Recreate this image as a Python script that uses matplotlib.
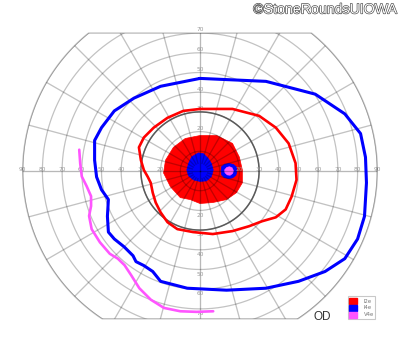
import numpy as np
import matplotlib
matplotlib.use("Agg")
import matplotlib.pyplot as plt
from matplotlib.patches import Polygon, Patch
import matplotlib.patheffects as pe

# ---- data (degrees of visual field; x = temporal/nasal, y = superior/inferior) ----
ring_degrees = [10, 20, 30, 40, 50, 60, 70, 80, 90]
meridian_angles = list(range(0, 360, 15))
h_labels = [20, 30, 40, 50, 60, 70, 80, 90]
v_labels_up = [20, 30, 40, 50, 60, 70]
v_labels_down = [20, 30, 40, 50, 60, 70]
field_top = 70
field_bottom = -75
field_radius = 90

# I4e isopter (blue line)
i4e_x = [0, 33.5, 58.5, 73.5, 81.5, 84, 84.5, 83.5, 80, 73.5, 63.5, 50, 33.5, 13.5, -6.5,
         -20, -24, -28.5, -32.5, -34, -38.5, -43.5, -46.5, -47, -46.5, -50, -52.5, -53.5,
         -53.5, -50, -43.5, -33.5, -20, 0]
i4e_y = [47, 45.5, 39, 29, 19, 7, -6, -23, -34.5, -44.5, -51, -56, -59.5, -60.5, -59.5,
         -56, -51, -48, -46, -43, -38.5, -34.5, -31, -23, -14.5, -9.5, -3, 5.5,
         15.5, 22, 30.5, 37, 43, 47]

# I2e isopter (red line)
i2e_x = [0, 16.5, 30, 38.5, 45, 48.5, 49, 46.5, 43.5, 38.5, 31.5, 25, 16.5, 6.5, -3.5,
         -11.5, -16.5, -20, -22.5, -24, -25, -26.5, -28.5, -30, -31, -28.5, -23.5, -16.5,
         -8.5, 0]
i2e_y = [31.5, 31.5, 28, 22, 14, 4, -4.5, -13, -19.5, -23.5, -25.5, -28, -30.5, -32, -31,
         -29.5, -26, -21, -16, -11, -6, -3, 0.5, 5.5, 12, 17, 22, 27, 30.5, 31.5]

# I2e seeing area (red fill)
i2e_fill_x = [0, 8.5, 16.5, 20, 21.5, 21.5, 18.5, 13.5, 6.5, 0, -5, -10, -15, -18.5, -17.5,
              -13.5, -7.5]
i2e_fill_y = [18, 18, 14, 7, 0.5, -6, -11, -14.5, -16, -16.5, -14.5, -13.5, -8, -1, 5.5,
              12, 16.5]

# I4e central area (blue fill)
i4e_fill_x = [-5.8, -4.2, -0.8, 1.7, 4.2, 5.8, 6.7, 5.8, 3.3, 0, -3.3, -5.8, -6.7]
i4e_fill_y = [3.8, 7.2, 9.2, 8.8, 6.3, 3.8, 0.5, -2.8, -5, -5.3, -4.5, -2.5, 0.5]

# blind spot: I4e (blue) around V4e (magenta)
bs_i4e_x = [11.0, 12.5, 14.8, 17.0, 18.5, 18.8, 18.2, 16.5, 14.5, 12.3, 11.0, 10.7]
bs_i4e_y = [2.2, 3.4, 3.8, 3.3, 2.0, 0.0, -2.2, -3.5, -3.8, -3.3, -2.0, 0.0]
bs_v4e_x = [12.6, 13.6, 15.0, 16.3, 17.0, 16.6, 15.3, 13.8, 12.7, 12.4]
bs_v4e_y = [0.8, 1.9, 2.2, 1.7, 0.2, -1.3, -2.2, -2.0, -1.0, 0.0]

# V4e isopter (magenta, open line)
v4e_x = [-61.3, -60.8, -60, -57.5, -55.3, -55.3, -56.3, -55, -50.8, -45.8, -41.7, -38.3,
         -35, -30.8, -25, -18.3, -10, -1.7, 6.7]
v4e_y = [10.8, 3.8, -2.8, -7.8, -12.8, -17.8, -22.8, -29.5, -36.2, -42, -44.5, -47.8,
         -52.8, -59.5, -65.3, -69.5, -71.2, -71.5, -71.2]

legend_labels = ["I2e", "I4e", "V4e"]
legend_colors = ["#ff0000", "#0000ff", "#ff55ff"]

# ---- figure ----
W, H = 400, 352
cx, cy, scale = 200.0, 171.0, 1.97
fig = plt.figure(figsize=(W / 100, H / 100), dpi=100)
ax = fig.add_axes([0, 0, 1, 1])
ax.set_xlim(-cx / scale, (W - cx) / scale)
ax.set_ylim(-(H - cy) / scale, cy / scale)
ax.set_aspect("equal")
ax.axis("off")

# clip region of the chart (circle of 90 deg cut at top/bottom)
t = np.linspace(0, 2 * np.pi, 721)
cxs = field_radius * np.cos(t)
cys = np.clip(field_radius * np.sin(t), field_bottom, field_top)
clip_poly = Polygon(np.column_stack([cxs, cys]), closed=True, facecolor="none",
                    edgecolor=(0, 0, 0, 0.25), lw=1.0, zorder=3)
ax.add_patch(clip_poly)

# fills
ax.add_patch(Polygon(np.column_stack([i2e_fill_x, i2e_fill_y]), closed=True,
                     facecolor="#ff0000", edgecolor="#ff0000", lw=0.5, zorder=1))
ax.add_patch(Polygon(np.column_stack([i4e_fill_x, i4e_fill_y]), closed=True,
                     facecolor="#0000ff", edgecolor="#0000ff", lw=0.5, zorder=1.1))
ax.add_patch(Polygon(np.column_stack([bs_i4e_x, bs_i4e_y]), closed=True,
                     facecolor="#0000ff", edgecolor="#0000ff", lw=0.5, zorder=1.1))
ax.add_patch(Polygon(np.column_stack([bs_v4e_x, bs_v4e_y]), closed=True,
                     facecolor="#ff55ff", edgecolor="#ff55ff", lw=0.3, zorder=1.2))

# grid drawn as translucent black (darkens whatever lies beneath)
grid_col = (0, 0, 0, 0.24)
for r in ring_degrees:
    ln, = ax.plot(r * np.cos(t), r * np.sin(t), color=grid_col, lw=0.9, zorder=2)
    ln.set_clip_path(clip_poly)
for a in meridian_angles:
    ar = np.deg2rad(a)
    r0 = 0 if a % 90 == 0 else 4
    col = (0, 0, 0, 0.28) if a % 90 == 0 else grid_col
    ln, = ax.plot([r0 * np.cos(ar), 95 * np.cos(ar)], [r0 * np.sin(ar), 95 * np.sin(ar)],
                  color=col, lw=0.95, zorder=2)
    ln.set_clip_path(clip_poly)
# dark 30 deg circle
ax.plot(30 * np.cos(t), 30 * np.sin(t), color="#5a5a5a", lw=1.1, zorder=2.5)

# axis labels
lab_kw = dict(fontsize=4.2, color="#999999", ha="center", va="center", zorder=2.6)
for v in h_labels:
    ax.text(-v, 0.6, str(v), **lab_kw)
    ax.text(v, 0.6, str(v), **lab_kw)
for v in v_labels_up:
    ax.text(0, v + 1.6, str(v), **lab_kw)
for v in v_labels_down:
    ax.text(0, -v - 2.4, str(v), **lab_kw)

# isopter lines
ax.plot(i4e_x, i4e_y, color="#0000ff", lw=2.2, zorder=4, solid_joinstyle="round",
        solid_capstyle="round")
ax.plot(i2e_x, i2e_y, color="#ff0000", lw=1.9, zorder=4, solid_joinstyle="round",
        solid_capstyle="round")
ax.plot(v4e_x, v4e_y, color="#ff55ff", lw=1.9, zorder=4, solid_joinstyle="round",
        solid_capstyle="round")

# legend
handles = [Patch(facecolor=c, edgecolor=c) for c in legend_colors]
leg = fig.legend(handles, legend_labels, loc="lower left",
                 bbox_to_anchor=(345 / W, (H - 322) / H), fontsize=3.8,
                 frameon=True, fancybox=False, handlelength=1.5, handleheight=1.45,
                 handletextpad=1.2, borderpad=0.3, labelspacing=0.12,
                 labelcolor="#777777", edgecolor="#bbbbbb")
leg.get_frame().set_linewidth(0.8)

# OD label
fig.text(322 / W, 1 - 317 / H, "OD", fontsize=8.5, color="#333333", ha="center", va="center",
         family="Liberation Sans")

# watermark
fig.text(397 / W, 1 - 9.5 / H, "\u00a9StoneRoundsUIOWA", fontsize=10.2, color="#ffffff",
         ha="right", va="center", family="Liberation Sans",
         path_effects=[pe.withStroke(linewidth=0.9, foreground="#444444")])

fig.savefig("out.png", dpi=100)
